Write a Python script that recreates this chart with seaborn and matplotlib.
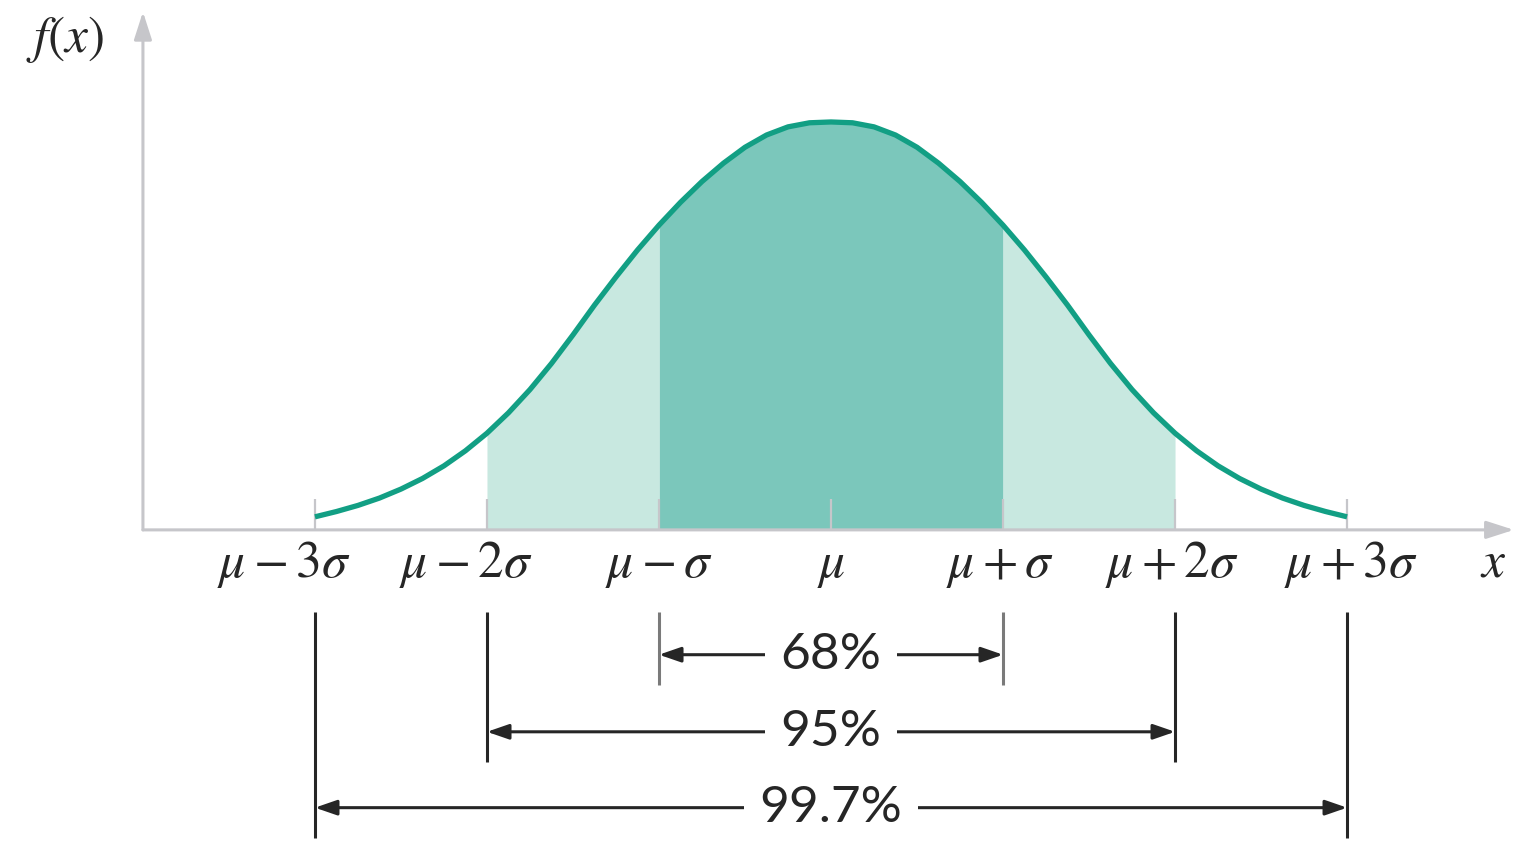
import numpy as np
import pandas as pd
import matplotlib.pyplot as plt
import seaborn as sns

# curve heights (peak = 1), x in units of sigma
curve_x = [-3.0, -2.875, -2.75, -2.625, -2.5, -2.375, -2.25, -2.125, -2.0, -1.875, -1.75, -1.625,
           -1.5, -1.375, -1.25, -1.125, -1.0, -0.875, -0.75, -0.625, -0.5, -0.375, -0.25, -0.125,
           0.0,
           0.125, 0.25, 0.375, 0.5, 0.625, 0.75, 0.875, 1.0, 1.125, 1.25, 1.375, 1.5,
           1.625, 1.75, 1.875, 2.0, 2.125, 2.25, 2.375, 2.5, 2.625, 2.75, 2.875, 3.0]
curve_f = [0.032, 0.045, 0.060, 0.078, 0.100, 0.126, 0.157, 0.194, 0.237, 0.287, 0.344, 0.408,
           0.478, 0.551, 0.620, 0.686, 0.747, 0.803, 0.854, 0.899, 0.938, 0.968, 0.988, 0.998,
           1.000,
           0.998, 0.988, 0.968, 0.938, 0.899, 0.854, 0.803, 0.747, 0.686, 0.620, 0.551, 0.478,
           0.408, 0.344, 0.287, 0.237, 0.194, 0.157, 0.126, 0.100, 0.078, 0.060, 0.045, 0.032]

sigma_pos = [-3, -2, -1, 0, 1, 2, 3]
tick_labels = [r'$\mu - 3\sigma$', r'$\mu - 2\sigma$', r'$\mu - \sigma$', r'$\mu$',
               r'$\mu + \sigma$', r'$\mu + 2\sigma$', r'$\mu + 3\sigma$']
label_pos = [-3.18, -2.12, -1.0, 0.0, 0.98, 1.98, 3.02]

coverage_k = [1, 2, 3]
coverage_labels = ['68%', '95%', '99.7%']

CURVE = '#129f84'
DARK = '#7bc7bb'
LIGHT = '#c8e8e0'
GRAY = '#c6c6ca'
INK = '#262626'

sns.set_theme(style='white')
plt.rcParams['font.family'] = ['DejaVu Sans']
plt.rcParams['mathtext.fontset'] = 'stix'

fig = plt.figure(figsize=(15.22, 8.66), dpi=100)
ax = fig.add_axes([0, 0, 1, 1])
ax.set_xlim(-4.831, 4.017)
ax.set_ylim(-0.824, 1.299)
ax.axis('off')

df = pd.DataFrame({'x': curve_x, 'f': curve_f})

# shaded bands
inner = df[(df.x >= -1) & (df.x <= 1)]
left = df[(df.x >= -2) & (df.x <= -1)]
right = df[(df.x >= 1) & (df.x <= 2)]
ax.fill_between(inner.x, inner.f, color=DARK, lw=0, zorder=1)
ax.fill_between(left.x, left.f, color=LIGHT, lw=0, zorder=1)
ax.fill_between(right.x, right.f, color=LIGHT, lw=0, zorder=1)

# small ticks at each sigma
ax.vlines(sigma_pos, 0, 0.075, color=GRAY, lw=1.6, zorder=2)

# axes with arrows
ax.annotate('', xy=(3.97, 0), xytext=(-4.0, 0),
            arrowprops=dict(arrowstyle='-|>,head_length=1.4,head_width=0.45',
                            color=GRAY, lw=2.2, shrinkA=0, shrinkB=0), zorder=2)
ax.annotate('', xy=(-4.0, 1.27), xytext=(-4.0, 0),
            arrowprops=dict(arrowstyle='-|>,head_length=1.4,head_width=0.45',
                            color=GRAY, lw=2.2, shrinkA=0, shrinkB=0), zorder=2)

# the curve
sns.lineplot(data=df, x='x', y='f', color=CURVE, lw=3.8, ax=ax, legend=False, zorder=3)
ax.lines[-1].set_solid_capstyle('butt')
ax.lines[-1].set_solid_joinstyle('round')

for p, lab in zip(label_pos, tick_labels):
    ax.text(p, -0.115, lab, ha='center', va='baseline', fontsize=37, color=INK)
ax.text(3.85, -0.115, r'$x$', ha='center', va='baseline', fontsize=37, color=INK)
ax.text(-4.45, 1.172, r'$f(x)$', ha='center', va='baseline', fontsize=37, color=INK)

# coverage brackets
row_y = [-0.306, -0.495, -0.681]
for k, lab, y in zip(coverage_k, coverage_labels, row_y):
    lc = '#7a7a7a' if k == 1 else INK
    ax.vlines([-k, k], y - 0.074, -0.201, color=lc, lw=2.2)
    ax.annotate('', xy=(k, y), xytext=(-k, y),
                arrowprops=dict(arrowstyle='<|-|>,head_length=1.1,head_width=0.38',
                                color=INK, lw=2.2, shrinkA=0, shrinkB=0))
    ax.text(0, y, lab, ha='center', va='center', fontsize=37, family='Lato', color=INK,
            bbox=dict(boxstyle='square,pad=0.3', fc='white', ec='none'))

fig.savefig('out.png', dpi=100)
